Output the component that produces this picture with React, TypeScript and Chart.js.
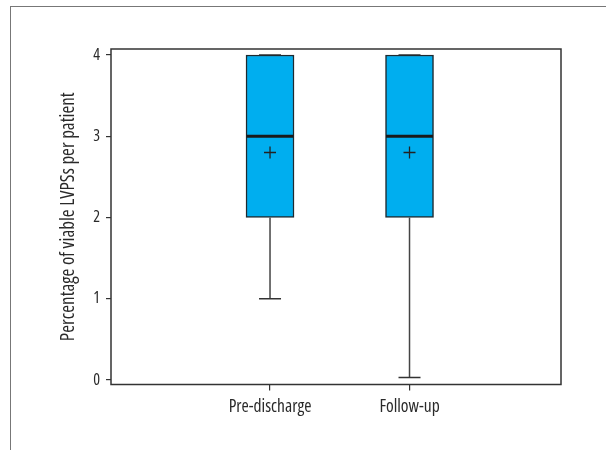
import React, { useEffect, useRef } from "react";
import { Chart, registerables } from "chart.js";

Chart.register(...registerables);

const categories = ["Pre-discharge", "Follow-up"];
const minValues = [1, 0.03];
const q1Values = [2, 2];
const medianValues = [3, 3];
const q3Values = [4, 4];
const maxValues = [4, 4];
const meanValues = [2.8, 2.8];
const yTickValues = [0, 1, 2, 3, 4];
const yTitle = "Percentage of viable LVPSs per patient";

const FONT = '"Open Sans", Roboto, sans-serif';
const INK = "#2a2a2a";

export default function App() {
  const ref = useRef<HTMLCanvasElement | null>(null);

  useEffect(() => {
    if (!ref.current) return;
    const pos = categories.map((_, i) => i + 1);

    const whiskerSets: any[] = [];
    pos.forEach((x, i) => {
      whiskerSets.push({
        type: "line",
        data: [
          { x, y: q1Values[i] },
          { x, y: minValues[i] },
        ],
        borderColor: "#444",
        borderWidth: 1.5,
        pointRadius: 0,
        order: 5,
      });
      whiskerSets.push({
        type: "line",
        data: [
          { x, y: q3Values[i] },
          { x, y: maxValues[i] },
        ],
        borderColor: "#444",
        borderWidth: 1.5,
        pointRadius: 0,
        order: 12,
      });
    });

    const framePlugin = {
      id: "frame",
      afterDatasetsDraw(chart: any) {
        const { ctx, chartArea } = chart;
        ctx.save();
        ctx.strokeStyle = "#333";
        ctx.lineWidth = 1.5;
        ctx.strokeRect(chartArea.left, chartArea.top, chartArea.right - chartArea.left, chartArea.bottom - chartArea.top);
        ctx.restore();
      },
    };

    const chart = new Chart(ref.current, {
      type: "bar",
      data: {
        datasets: [
          {
            type: "bar",
            data: pos.map((x, i) => ({ x, y: [q1Values[i], q3Values[i]] })) as any,
            backgroundColor: "#00AEEF",
            borderColor: "#1e2a30",
            borderWidth: 1.5,
            borderSkipped: false,
            barThickness: 48,
            order: 10,
          },
          ...whiskerSets,
          {
            type: "scatter",
            data: pos.map((x, i) => ({ x, y: minValues[i] })),
            pointStyle: "line",
            radius: 11,
            borderColor: "#333",
            borderWidth: 1.5,
            order: 2,
          },
          {
            type: "scatter",
            data: pos.map((x, i) => ({ x, y: maxValues[i] })),
            pointStyle: "line",
            radius: 11,
            borderColor: "#333",
            borderWidth: 1.5,
            order: 12,
          },
          {
            type: "scatter",
            data: pos.map((x, i) => ({ x, y: medianValues[i] })),
            pointStyle: "line",
            radius: 23.5,
            borderColor: "#1a1a1a",
            borderWidth: 3,
            order: 1,
          },
          {
            type: "scatter",
            data: pos.map((x, i) => ({ x, y: meanValues[i] })),
            pointStyle: "cross",
            radius: 6,
            borderColor: "#222",
            borderWidth: 1.3,
            order: 0,
          },
        ] as any,
      },
      options: {
        animation: false,
        responsive: false,
        events: [],
        layout: { padding: { left: 0, right: 45, top: 49, bottom: 0 } },
        plugins: { legend: { display: false }, tooltip: { enabled: false } },
        scales: {
          x: {
            type: "linear",
            offset: false,
            min: -0.14,
            max: 3.086,
            afterBuildTicks: (s: any) => {
              s.ticks = pos.map((v) => ({ value: v }));
            },
            afterFit: (s: any) => {
              s.height = 65.5;
            },
            ticks: {
              autoSkip: false,
              maxRotation: 0,
              padding: 6,
              color: INK,
              font: { family: FONT, size: 17.5, weight: "condensed" },
              callback: (v: any) => categories[Number(v) - 1] ?? "",
            },
            grid: { offset: false, drawOnChartArea: false, drawTicks: true, tickLength: 6, color: "#333", lineWidth: 1.2 },
            border: { display: false },
          },
          y: {
            type: "linear",
            min: -0.055,
            max: 4.074,
            afterBuildTicks: (s: any) => {
              s.ticks = yTickValues.map((v) => ({ value: v }));
            },
            afterFit: (s: any) => {
              s.width = 111;
            },
            ticks: {
              padding: 6,
              color: INK,
              font: { family: FONT, size: 16, weight: "condensed" },
              callback: (v: any) => String(v),
            },
            grid: { drawOnChartArea: false, drawTicks: true, tickLength: 5, color: "#333", lineWidth: 1.2 },
            border: { display: false },
            title: {
              display: true,
              text: yTitle,
              color: INK,
              font: { family: FONT, size: 19, weight: "condensed" },
              padding: { top: 57, bottom: 0 },
            },
          },
        },
      },
      plugins: [framePlugin],
    } as any);

    return () => chart.destroy();
  }, []);

  return (
    <div style={{ position: "fixed", left: 0, top: 0, width: 606, height: 450, background: "#fff" }}>
      <div
        style={{
          position: "absolute",
          left: 10,
          top: 6,
          right: 0,
          bottom: 0,
          borderTop: "1px solid #777",
          borderLeft: "1px solid #777",
        }}
      />
      <canvas
        ref={ref}
        width={606}
        height={450}
        style={{ position: "absolute", left: 0, top: 0, width: 606, height: 450 }}
      />
    </div>
  );
}
